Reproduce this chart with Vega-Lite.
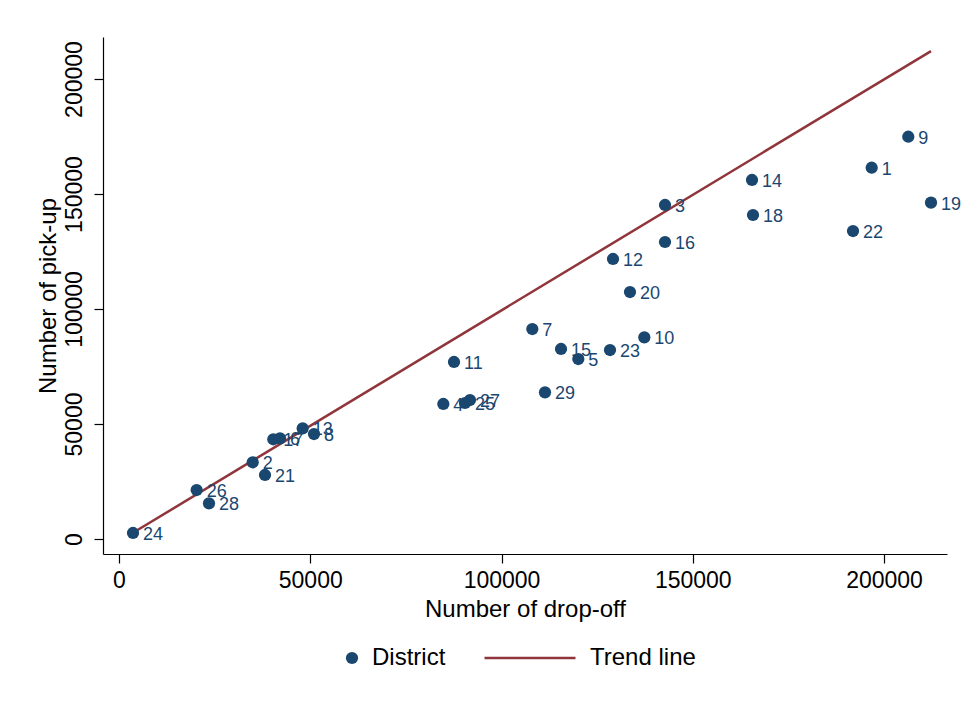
{
  "$schema": "https://vega.github.io/schema/vega-lite/v6.json",
  "width": 844,
  "height": 517,
  "autosize": {"type": "none"},
  "padding": {"left": 103, "top": 37, "right": 19, "bottom": 153},
  "background": "white",
  "config": {
    "view": {"stroke": null},
    "font": "Liberation Sans",
    "axis": {
      "domainColor": "#000000",
      "tickColor": "#000000",
      "labelColor": "#000000",
      "titleColor": "#000000",
      "labelFont": "Liberation Sans",
      "titleFont": "Liberation Sans",
      "labelFontSize": 23,
      "titleFontSize": 24,
      "titleFontWeight": "normal",
      "grid": false,
      "tickSize": 9,
      "domainWidth": 1.2,
      "tickWidth": 1.2
    },
    "legend": {
      "labelFont": "Liberation Sans",
      "labelFontSize": 24,
      "labelColor": "#000000",
      "padding": 0
    }
  },
  "datasets": {
    "pts": [
      {"district": "1", "dropoff": 196780, "pickup": 161430, "series": "District"},
      {"district": "2", "dropoff": 34950, "pickup": 33350, "series": "District"},
      {"district": "3", "dropoff": 142750, "pickup": 145220, "series": "District"},
      {"district": "4", "dropoff": 84790, "pickup": 58700, "series": "District"},
      {"district": "5", "dropoff": 120080, "pickup": 78260, "series": "District"},
      {"district": "6", "dropoff": 42090, "pickup": 43780, "series": "District"},
      {"district": "7", "dropoff": 108060, "pickup": 91300, "series": "District"},
      {"district": "8", "dropoff": 50980, "pickup": 45650, "series": "District"},
      {"district": "9", "dropoff": 206350, "pickup": 174910, "series": "District"},
      {"district": "10", "dropoff": 137340, "pickup": 87680, "series": "District"},
      {"district": "11", "dropoff": 87580, "pickup": 76960, "series": "District"},
      {"district": "12", "dropoff": 129150, "pickup": 121740, "series": "District"},
      {"district": "13", "dropoff": 48020, "pickup": 48130, "series": "District"},
      {"district": "14", "dropoff": 165490, "pickup": 156090, "series": "District"},
      {"district": "15", "dropoff": 115560, "pickup": 82610, "series": "District"},
      {"district": "16", "dropoff": 142750, "pickup": 129130, "series": "District"},
      {"district": "17", "dropoff": 40340, "pickup": 43350, "series": "District"},
      {"district": "18", "dropoff": 165750, "pickup": 140870, "series": "District"},
      {"district": "19", "dropoff": 212290, "pickup": 146220, "series": "District"},
      {"district": "20", "dropoff": 133590, "pickup": 107390, "series": "District"},
      {"district": "21", "dropoff": 38170, "pickup": 27830, "series": "District"},
      {"district": "22", "dropoff": 191900, "pickup": 133910, "series": "District"},
      {"district": "23", "dropoff": 128370, "pickup": 82170, "series": "District"},
      {"district": "24", "dropoff": 3660, "pickup": 2610, "series": "District"},
      {"district": "25", "dropoff": 90460, "pickup": 59130, "series": "District"},
      {"district": "26", "dropoff": 20300, "pickup": 21300, "series": "District"},
      {"district": "27", "dropoff": 91760, "pickup": 60430, "series": "District"},
      {"district": "28", "dropoff": 23530, "pickup": 15520, "series": "District"},
      {"district": "29", "dropoff": 111370, "pickup": 63780, "series": "District"}
    ],
    "trend": [
      {"dropoff": 3660, "pickup": 2700, "kind": "Trend line"},
      {"dropoff": 212290, "pickup": 212150, "kind": "Trend line"}
    ]
  },
  "layer": [
    {
      "data": {"name": "trend"},
      "mark": {"type": "line", "strokeWidth": 2.5},
      "encoding": {
        "x": {"field": "dropoff", "type": "quantitative", "scale": {"domain": [-4183, 216470], "nice": false, "zero": false},
          "axis": {"title": "Number of drop-off", "values": [0, 50000, 100000, 150000, 200000], "format": "d", "labelPadding": 6, "titlePadding": 5}},
        "y": {"field": "pickup", "type": "quantitative", "scale": {"domain": [-6522, 218261], "nice": false, "zero": false},
          "axis": {"title": "Number of pick-up", "values": [0, 50000, 100000, 150000, 200000], "format": "d", "labelAngle": 270, "labelAlign": "center", "labelBaseline": "bottom", "labelPadding": 8, "titlePadding": 3}},
        "stroke": {"field": "kind", "type": "nominal", "scale": {"domain": ["Trend line"], "range": ["#90353b"]},
          "legend": {"title": null, "orient": "none", "legendX": 380, "legendY": 574, "symbolType": "stroke", "symbolSize": 8281, "symbolStrokeWidth": 2.5, "labelOffset": 13}}
      }
    },
    {
      "data": {"name": "pts"},
      "mark": {"type": "circle", "opacity": 1, "size": 150},
      "encoding": {
        "x": {"field": "dropoff", "type": "quantitative"},
        "y": {"field": "pickup", "type": "quantitative"},
        "color": {"field": "series", "type": "nominal", "scale": {"domain": ["District"], "range": ["#1a476f"]},
          "legend": {"title": null, "orient": "none", "legendX": 237, "legendY": 609, "symbolType": "circle", "symbolSize": 150, "symbolOpacity": 1, "labelOffset": 8}}
      }
    },
    {
      "data": {"name": "pts"},
      "mark": {"type": "text", "align": "left", "baseline": "middle", "dx": 10, "dy": 2, "fontSize": 18, "font": "Liberation Sans", "color": "#1a476f"},
      "encoding": {
        "x": {"field": "dropoff", "type": "quantitative"},
        "y": {"field": "pickup", "type": "quantitative"},
        "text": {"field": "district", "type": "nominal"}
      }
    }
  ]
}
